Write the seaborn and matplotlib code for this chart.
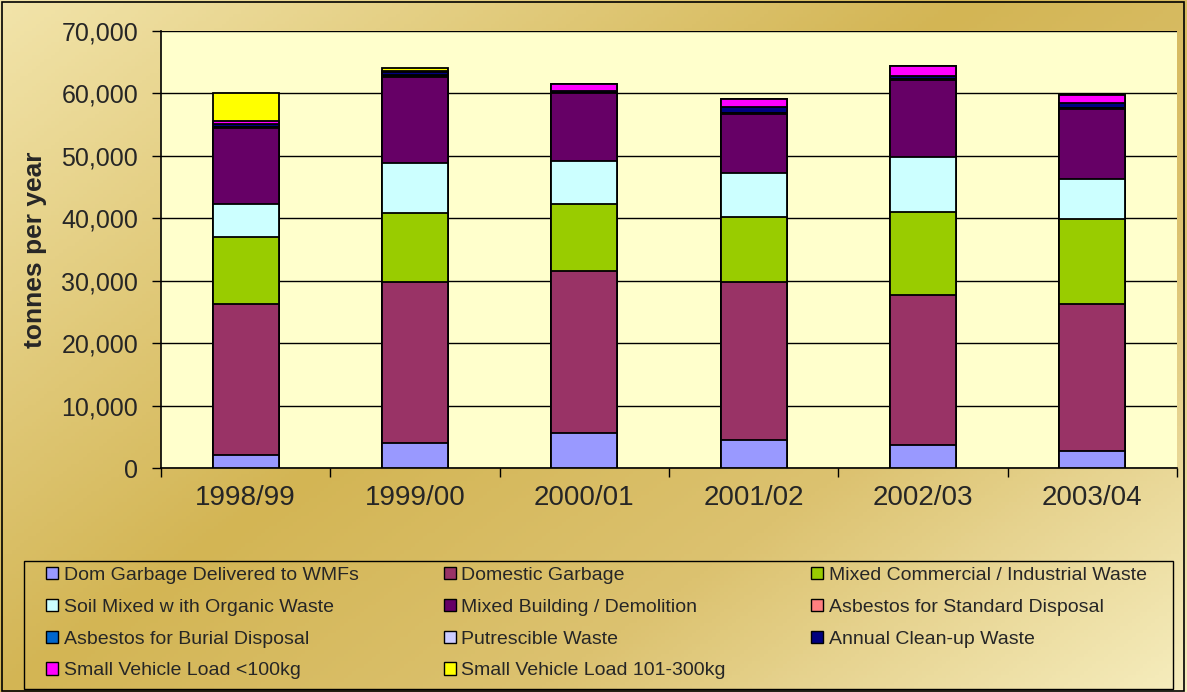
"""Waste received per year, stacked by category."""
import numpy as np
import pandas as pd

import matplotlib
matplotlib.use("Agg")
import matplotlib.pyplot as plt
from matplotlib.colors import LinearSegmentedColormap
from matplotlib.patches import Patch, Rectangle
from matplotlib.ticker import FuncFormatter, FixedLocator
import seaborn as sns

years = ["1998/99", "1999/00", "2000/01", "2001/02", "2002/03", "2003/04"]

series_names = [
    "Dom Garbage Delivered to WMFs",
    "Domestic Garbage",
    "Mixed Commercial / Industrial Waste",
    "Soil Mixed w ith Organic Waste",
    "Mixed Building / Demolition",
    "Asbestos for Standard Disposal",
    "Asbestos for Burial Disposal",
    "Putrescible Waste",
    "Annual Clean-up Waste",
    "Small Vehicle Load <100kg",
    "Small Vehicle Load 101-300kg",
]

# tonnes per year
dom_wmf = [2200, 4000, 5700, 4600, 3700, 2800]
domestic = [24100, 25800, 25800, 25200, 24100, 23500]
mixed_comm = [10700, 11000, 10800, 10400, 13200, 13600]
soil = [5200, 8100, 6900, 7000, 8800, 6400]
building = [12300, 13700, 10800, 9500, 12300, 11200]
asb_std = [100, 100, 100, 100, 100, 100]
asb_burial = [0, 0, 0, 0, 0, 0]
putrescible = [0, 200, 0, 0, 0, 0]
annual = [400, 500, 300, 1000, 600, 900]
svl_small = [600, 200, 1100, 1300, 1600, 1200]
svl_large = [4400, 400, 0, 0, 0, 0]

colors = ["#9999FF", "#993366", "#99CC00", "#CCFFFF", "#660066", "#FF8080",
          "#0066CC", "#CCCCFF", "#000080", "#FF00FF", "#FFFF00"]

values = [dom_wmf, domestic, mixed_comm, soil, building, asb_std,
          asb_burial, putrescible, annual, svl_small, svl_large]

df = pd.DataFrame(np.array(values).T, columns=series_names)
df["year"] = years
cum = df[series_names].cumsum(axis=1)
cum["year"] = years

sns.set_style("white")
plt.rcParams["font.family"] = ["Liberation Sans", "DejaVu Sans"]

fig = plt.figure(figsize=(11.87, 6.92), dpi=100)

# gold gradient background
bg = fig.add_axes([0, 0, 1, 1], zorder=-10)
gx, gy = np.meshgrid(np.linspace(0, 1, 300), np.linspace(0, 1, 200))
grad = 0.55 * gx + 0.45 * gy
cmap = LinearSegmentedColormap.from_list(
    "gold", [(0, "#F2E4AA"), (0.45, "#D3B554"), (0.7, "#DCC270"), (1, "#F6EDBE")])
bg.imshow(grad, cmap=cmap, aspect="auto", extent=[0, 1, 0, 1], origin="upper")
bg.set_axis_off()
fig.add_artist(Rectangle((0.0015, 0.002), 0.996, 0.995, transform=fig.transFigure,
                         fill=False, edgecolor="black", linewidth=1.2))

ax = fig.add_axes([161 / 1187, 1 - 468.3 / 692, 1016 / 1187, 437.6 / 692])
ax.set_facecolor("#FFFFCC")

# draw cumulative totals from the top series down so each covers the one above
for name, col in reversed(list(zip(series_names, colors))):
    sns.barplot(data=cum, x="year", y=name, color=col, width=0.39,
                edgecolor="black", linewidth=1.3, saturation=1, ax=ax, zorder=3)

ax.set_xlim(-0.5, 5.5)
ax.set_ylim(0, 70000)
ax.set_yticks(range(0, 70001, 10000))
ax.yaxis.set_major_formatter(FuncFormatter(lambda v, p: f"{int(v):,}"))
ax.grid(axis="y", color="black", linewidth=1, zorder=0)
ax.set_axisbelow(True)
for s in ["top", "right"]:
    ax.spines[s].set_visible(False)
for s in ["left", "bottom"]:
    ax.spines[s].set_color("black")
    ax.spines[s].set_linewidth(1.2)

ax.tick_params(axis="y", which="major", direction="out", length=6.5, width=1,
               color="black", labelsize=18, pad=10, left=True)
ax.tick_params(axis="x", which="major", length=0, labelsize=20, pad=12)
ax.xaxis.set_minor_locator(FixedLocator(np.arange(-0.5, 6, 1)))
ax.tick_params(axis="x", which="minor", direction="out", length=6.5, width=1,
               color="black", bottom=True)
ax.set_xlabel("")
ax.set_ylabel("tonnes per year", fontsize=19, fontweight="bold", labelpad=12)
ax.yaxis.set_label_coords(-114 / 1016, 0.5)

# legend box drawn separately so the side padding can differ from the top
fig.add_artist(Rectangle((24 / 1187, 1 - 689 / 692), 1149 / 1187, 128 / 692,
                         transform=fig.transFigure, fill=False,
                         edgecolor="black", linewidth=1))
handles = [Patch(facecolor=c, edgecolor="black", linewidth=1) for c in colors]
order = [0, 3, 6, 9, 1, 4, 7, 10, 2, 5, 8]
leg = fig.legend([handles[i] for i in order], [series_names[i] for i in order],
                 ncol=3, loc="upper left", bbox_to_anchor=(46 / 1187, 1 - 567 / 692),
                 fontsize=14, frameon=False, handlelength=0.6, handleheight=0.6,
                 handletextpad=0.3, columnspacing=4.4, labelspacing=0.76,
                 borderpad=0, borderaxespad=0)

fig.savefig("out.png", dpi=100)
